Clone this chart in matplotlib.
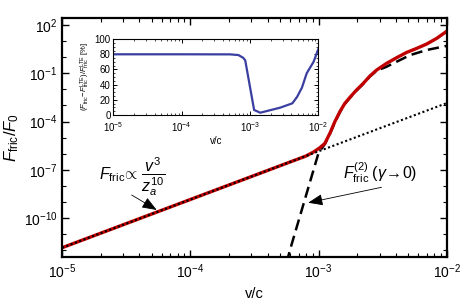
import numpy as np
import matplotlib
matplotlib.use("Agg")
import matplotlib.pyplot as plt
from matplotlib.ticker import LogLocator, FixedLocator, MultipleLocator, NullFormatter

plt.rcParams['font.family'] = ['Liberation Sans', 'DejaVu Sans']
plt.rcParams['mathtext.fontset'] = 'custom'
plt.rcParams['mathtext.rm'] = 'Liberation Sans'
plt.rcParams['mathtext.it'] = 'Liberation Sans:italic'
plt.rcParams['mathtext.bf'] = 'Liberation Sans:bold'

# v^3 law (dotted), log10 values
lv_law = [-5.0, -2.0]
lF_law = [-11.85, -2.85]

lv_full = [-5.0, -3.1, -3.04, -2.99, -2.951, -2.912, -2.873, -2.834, -2.795, -2.756,
           -2.704, -2.652, -2.6, -2.548, -2.47, -2.392, -2.314, -2.236, -2.158, -2.08, -2.0]
lF_full = [-11.85, -6.15, -5.9, -5.63, -5.36, -4.74, -4.01, -3.39, -2.87, -2.5,
           -2.04, -1.63, -1.17, -0.8, -0.38, -0.03, 0.3, 0.55, 0.82, 1.17, 1.62]

# second order, gamma -> 0 (dashed)
lv_f2 = [-3.25, -3.223, -3.0, -2.951, -2.912, -2.873, -2.834, -2.795, -2.756, -2.704,
         -2.652, -2.6, -2.548, -2.47, -2.392, -2.288, -2.158, -2.0]
lF_f2 = [-12.8, -12.0, -5.95, -5.4, -4.78, -4.05, -3.42, -2.9, -2.53, -2.07,
         -1.66, -1.2, -0.84, -0.59, -0.28, 0.13, 0.45, 0.71]

# inset: relative difference [%]
lv_in = [-5.0, -4.0, -3.29, -3.17, -3.10, -3.07, -2.94, -2.85,
         -2.56, -2.38, -2.31, -2.24, -2.17, -2.07, -2.0]
d_in = [80, 80, 79.9, 79, 75.4, 72, 6.6, 3, 9.6, 15.4, 24, 36, 55, 70, 86.8]

v_law, F_law = 10.0**np.array(lv_law), 10.0**np.array(lF_law)
v_full, F_full = 10.0**np.array(lv_full), 10.0**np.array(lF_full)
v_f2, F_f2 = 10.0**np.array(lv_f2), 10.0**np.array(lF_f2)
v_in = 10.0**np.array(lv_in)

fig = plt.figure(figsize=(4.63, 3.01), dpi=100)
ax = fig.add_axes([0.134, 0.146, 0.831, 0.794])

ax.plot(v_f2, F_f2, color='black', lw=1.8, dashes=(4.5, 2.3))
ax.plot(v_full, F_full, color='#c00000', lw=2.4)
ax.plot(v_law, F_law, color='black', lw=1.5, ls=(0, (1, 1.2)))

ax.set_xscale('log')
ax.set_yscale('log')
ax.set_xlim(1e-5, 1e-2)
ax.set_ylim(10**-12.43, 10**2.44)
ax.yaxis.set_major_locator(FixedLocator([1e2, 1e-1, 1e-4, 1e-7, 1e-10]))
ax.yaxis.set_minor_locator(FixedLocator([10.0**k for k in range(-12, 3)]))
ax.yaxis.set_minor_formatter(NullFormatter())
ax.xaxis.set_minor_locator(LogLocator(base=10, subs=np.arange(2, 10), numticks=20))
ax.xaxis.set_minor_formatter(NullFormatter())
ax.tick_params(which='both', direction='in', top=True, right=True, labelsize=10)
ax.tick_params(which='major', length=5, width=1)
ax.tick_params(which='minor', length=3, width=0.8)
for s in ax.spines.values():
    s.set_linewidth(1.6)

ax.set_xlabel('v/c', fontsize=10.5, labelpad=5)
ax.set_ylabel(r'$F_{\rm fric}/F_0$', fontsize=12, labelpad=2)

arrow = dict(arrowstyle='-|>,head_length=0.9,head_width=0.35',
             color='black', lw=0.6, shrinkA=0, shrinkB=0)
ax.text(3.5e-5, 10**-7.45, r'$F_{\rm fric}\!\propto\,\dfrac{v^3}{z_a^{10}}$',
        fontsize=11.5, ha='center', va='center')
ax.annotate('', xy=(10**-4.262, 10**-9.5), xytext=(10**-4.457, 10**-8.57),
            arrowprops=arrow)
ax.text(10**-2.522, 10**-7.2, r'$F_{\rm fric}^{(2)}\;(\gamma\!\rightarrow\!0)$',
        fontsize=11.5, ha='center', va='center')
ax.annotate('', xy=(10**-3.081, 10**-9.05), xytext=(10**-2.509, 10**-8.09),
            arrowprops=arrow)

ins = fig.add_axes([0.245, 0.618, 0.4425, 0.252])
ins.plot(v_in, d_in, color='#3a3ea0', lw=1.6)
ins.set_xscale('log')
ins.set_xlim(1e-5, 1e-2)
ins.set_ylim(0, 100)
ins.yaxis.set_major_locator(MultipleLocator(20))
ins.yaxis.set_minor_locator(MultipleLocator(5))
ins.xaxis.set_minor_locator(LogLocator(base=10, subs=np.arange(2, 10), numticks=20))
ins.xaxis.set_minor_formatter(NullFormatter())
ins.tick_params(which='both', direction='in', top=True, right=True, labelsize=7, pad=2)
ins.tick_params(axis='x', which='major', pad=4)
ins.tick_params(which='major', length=3, width=0.7)
ins.tick_params(which='minor', length=1.5, width=0.5)
for s in ins.spines.values():
    s.set_linewidth(0.8)
ins.set_xlabel('v/c', fontsize=7, labelpad=1)
ins.set_ylabel(r'$(F_{\rm fric}\!-\!F_{\rm fric}^{\rm LTE})/F_{\rm fric}^{\rm LTE}$ [%]',
               fontsize=5.5, labelpad=2)

fig.savefig('out.png', dpi=100)
